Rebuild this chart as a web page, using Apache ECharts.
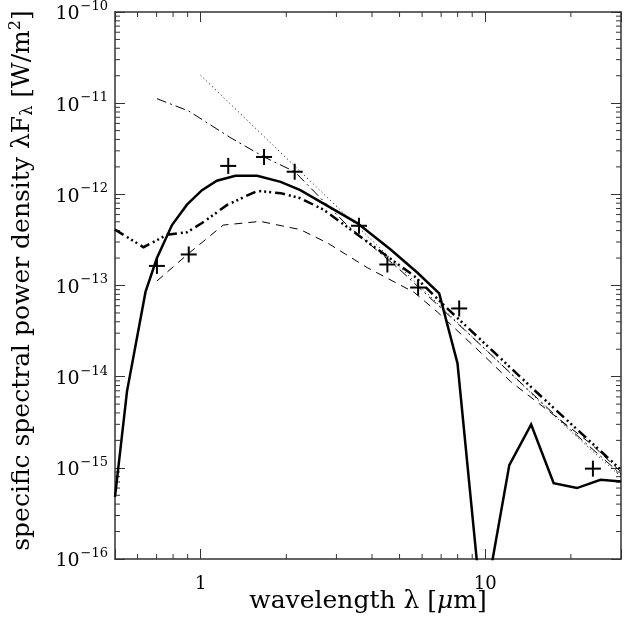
<!DOCTYPE html>
<html><head><meta charset="utf-8">
<script src="https://cdn.jsdelivr.net/npm/echarts@6/dist/echarts.min.js"></script>
<style>html,body{margin:0;padding:0;background:#fff}#c{width:629px;height:628px}</style>
</head><body><div id="c"></div>
<script>
// Plot unit conversion: values are in W/m^2, plotted in units of 1e-16 W/m^2
const Y_SCALE = 1e16;
const Y_EXP_OFFSET = -16;

// wavelength [um] / lambda F_lambda [W/m^2]
const solidX = [0.5, 0.551, 0.64, 0.702, 0.793, 0.895, 1.011, 1.14, 1.325, 1.58, 1.91, 2.24, 3.55, 4.65, 5.78, 6.89, 7.99, 9.77, 12.15, 14.5, 17.4, 21.0, 25.4, 30];
const solidY = [4.8e-16, 6.9e-15, 8.5e-14, 2.0e-13, 4.6e-13, 7.7e-13, 1.11e-12, 1.41e-12, 1.6e-12, 1.6e-12, 1.37e-12, 1.11e-12, 4.84e-13, 2.48e-13, 1.38e-13, 8.2e-14, 1.4e-14, 2.3e-17, 1.07e-15, 2.99e-15, 6.8e-16, 6.0e-16, 7.4e-16, 7.1e-16];

const dash3X = [0.5, 0.63, 0.762, 0.895, 1.011, 1.239, 1.58, 1.91, 2.24, 2.71, 3.75, 5.63, 7.4, 15.7, 30];
const dash3Y = [4.1e-13, 2.63e-13, 3.6e-13, 3.83e-13, 4.84e-13, 7.65e-13, 1.09e-12, 1.03e-12, 9.05e-13, 6.76e-13, 3.2e-13, 1.27e-13, 5.5e-14, 6.1e-15, 9.5e-16];

const dashedX = [0.702, 0.9, 1.2, 1.62, 2.24, 2.79, 3.85, 5.63, 6.8, 10, 12.3, 23.6, 30];
const dashedY = [1.12e-13, 2.2e-13, 4.6e-13, 5.05e-13, 4.1e-13, 2.93e-13, 1.57e-13, 8.4e-14, 5.1e-14, 1.65e-14, 8.8e-15, 1.82e-15, 9.0e-16];

const dashDotX = [0.702, 0.908, 1.27, 1.67, 2.14, 3.27, 5, 10, 20, 30];
const dashDotY = [1.12e-11, 8.2e-12, 4.2e-12, 2.57e-12, 1.77e-12, 4.6e-13, 1.5e-13, 2.0e-14, 2.6e-15, 8.5e-16];

const dottedX = [1, 2, 5, 10, 20, 30];
const dottedY = [2.02e-11, 2.5e-12, 1.6e-13, 2.0e-14, 2.5e-15, 8.0e-16];

const obsX = [0.702, 0.908, 1.25, 1.67, 2.14, 3.6, 4.53, 5.81, 8.1, 23.9];
const obsY = [1.64e-13, 2.19e-13, 2.05e-12, 2.57e-12, 1.77e-12, 4.52e-13, 1.7e-13, 9.5e-14, 5.6e-14, 9.8e-16];

// axis ticks
const xRange = [0.5, 30];
const yRange = [1e-16, 1e-10];
const xLabelVals = [1, 10];
const xMinorTicks = [0.6, 0.7, 0.8, 0.9, 2, 3, 4, 5, 6, 7, 8, 9, 20];
const yMinorMantissas = [2, 3, 4, 5, 6, 7, 8, 9];
const yDecades = [-16, -15, -14, -13, -12, -11];

const FONT = 'DejaVu Serif';
const AX = '#333';

function pairs(xs, ys) { return xs.map((x, i) => [x, ys[i] * Y_SCALE]); }

const yMinorData = [];
yDecades.forEach(d => yMinorMantissas.forEach(m => yMinorData.push([1, m * Math.pow(10, d) * Y_SCALE])));
const xMinorData = xMinorTicks.map(v => [v, 1e3]);

function lineSeries(name, xs, ys, width, type) {
  return {
    name, type: 'line', data: pairs(xs, ys), symbol: 'none', showSymbol: false,
    lineStyle: { color: '#000', width, type, cap: 'butt', join: 'miter' },
    clip: true, animation: false, z: 3
  };
}

const chart = echarts.init(document.getElementById('c'), null, { renderer: 'canvas' });

const baseX = {
  type: 'log', logBase: 10, min: xRange[0], max: xRange[1],
  axisLine: { show: true, onZero: false, lineStyle: { color: AX, width: 1.5 } },
  axisTick: { show: true, inside: true, length: 10, lineStyle: { color: AX, width: 1 } },
  splitLine: { show: false }, minorTick: { show: false }
};
const baseY = {
  type: 'log', logBase: 10, min: yRange[0] * Y_SCALE, max: yRange[1] * Y_SCALE,
  axisLine: { show: true, onZero: false, lineStyle: { color: AX, width: 1.5 } },
  axisTick: { show: true, inside: true, length: 10, lineStyle: { color: AX, width: 1 } },
  splitLine: { show: false }, minorTick: { show: false }
};

chart.setOption({
  animation: false,
  backgroundColor: '#fff',
  grid: { left: 115, right: 8, top: 7, bottom: 69, containLabel: false },
  xAxis: [
    Object.assign({}, baseX, {
      position: 'bottom',
      axisLabel: {
        margin: 16, fontFamily: FONT, fontSize: 18, color: '#000',
        formatter: v => { for (const t of xLabelVals) if (Math.abs(v - t) / t < 1e-6) return String(t); return ''; }
      },
      name: 'wavelength λ [{it|μ}m]', nameLocation: 'middle', nameGap: 30, nameMoveOverlap: false,
      nameTextStyle: { fontFamily: FONT, fontSize: 25, color: '#000',
        rich: { it: { fontFamily: FONT, fontSize: 25, fontStyle: 'italic', color: '#000' } } }
    }),
    Object.assign({}, baseX, { position: 'top', axisLabel: { show: false } })
  ],
  yAxis: [
    Object.assign({}, baseY, {
      position: 'left',
      axisLabel: {
        margin: 7, color: '#000',
        formatter: v => {
          const e = Math.round(Math.log10(v)) + Y_EXP_OFFSET;
          return '{b|10}{s|\u2212' + Math.abs(e) + '}';
        },
        rich: {
          b: { fontFamily: FONT, fontSize: 19, color: '#000', verticalAlign: 'bottom' },
          s: { fontFamily: FONT, fontSize: 13, color: '#000', verticalAlign: 'bottom', padding: [0, 0, 11, 1] }
        }
      },
      name: 'specific spectral power density λF{sub|λ} [W/m{sup|2}]',
      nameLocation: 'middle', nameGap: 79, nameRotate: 90, nameMoveOverlap: false,
      nameTextStyle: { fontFamily: FONT, fontSize: 25, color: '#000', padding: [0, 0, 0, 10],
        rich: {
          sub: { fontFamily: FONT, fontSize: 16, color: '#000', verticalAlign: 'top', padding: [12, 0, 0, 0] },
          sup: { fontFamily: FONT, fontSize: 16, color: '#000', verticalAlign: 'bottom', padding: [0, 0, 12, 0] }
        } }
    }),
    Object.assign({}, baseY, { position: 'right', axisLabel: { show: false } })
  ],
  series: [
    lineSeries('dotted', dottedX, dottedY, 1, [1, 3]),
    lineSeries('dashdot', dashDotX, dashDotY, 1, [10, 4, 2, 4]),
    lineSeries('dashed', dashedX, dashedY, 1, [8, 6]),
    lineSeries('dash3dot', dash3X, dash3Y, 2.5, [10, 4, 2, 3, 2, 3, 2, 4]),
    lineSeries('solid', solidX, solidY, 2.5, 'solid'),
    {
      name: 'obs', type: 'custom', data: pairs(obsX, obsY), animation: false, z: 4,
      renderItem(params, api) {
        const p = api.coord([api.value(0), api.value(1)]);
        const s = 8;
        return { type: 'group', children: [
          { type: 'line', shape: { x1: p[0] - s, y1: p[1], x2: p[0] + s, y2: p[1] }, style: { stroke: '#000', lineWidth: 2 } },
          { type: 'line', shape: { x1: p[0], y1: p[1] - s, x2: p[0], y2: p[1] + s }, style: { stroke: '#000', lineWidth: 2 } }
        ] };
      }
    },
    {
      name: 'yMinor', type: 'custom', data: yMinorData, animation: false, silent: true, clip: false,
      renderItem(params, api) {
        const cs = params.coordSys;
        const y = api.coord([api.value(0), api.value(1)])[1];
        return { type: 'group', children: [
          { type: 'line', shape: { x1: cs.x, y1: y, x2: cs.x + 5, y2: y }, style: { stroke: AX, lineWidth: 1 } },
          { type: 'line', shape: { x1: cs.x + cs.width - 5, y1: y, x2: cs.x + cs.width, y2: y }, style: { stroke: AX, lineWidth: 1 } }
        ] };
      }
    },
    {
      name: 'xMinor', type: 'custom', data: xMinorData, animation: false, silent: true, clip: false,
      renderItem(params, api) {
        const cs = params.coordSys;
        const x = api.coord([api.value(0), api.value(1)])[0];
        return { type: 'group', children: [
          { type: 'line', shape: { x1: x, y1: cs.y + cs.height, x2: x, y2: cs.y + cs.height - 5 }, style: { stroke: AX, lineWidth: 1 } },
          { type: 'line', shape: { x1: x, y1: cs.y, x2: x, y2: cs.y + 5 }, style: { stroke: AX, lineWidth: 1 } }
        ] };
      }
    }
  ]
});
</script>
</body></html>
